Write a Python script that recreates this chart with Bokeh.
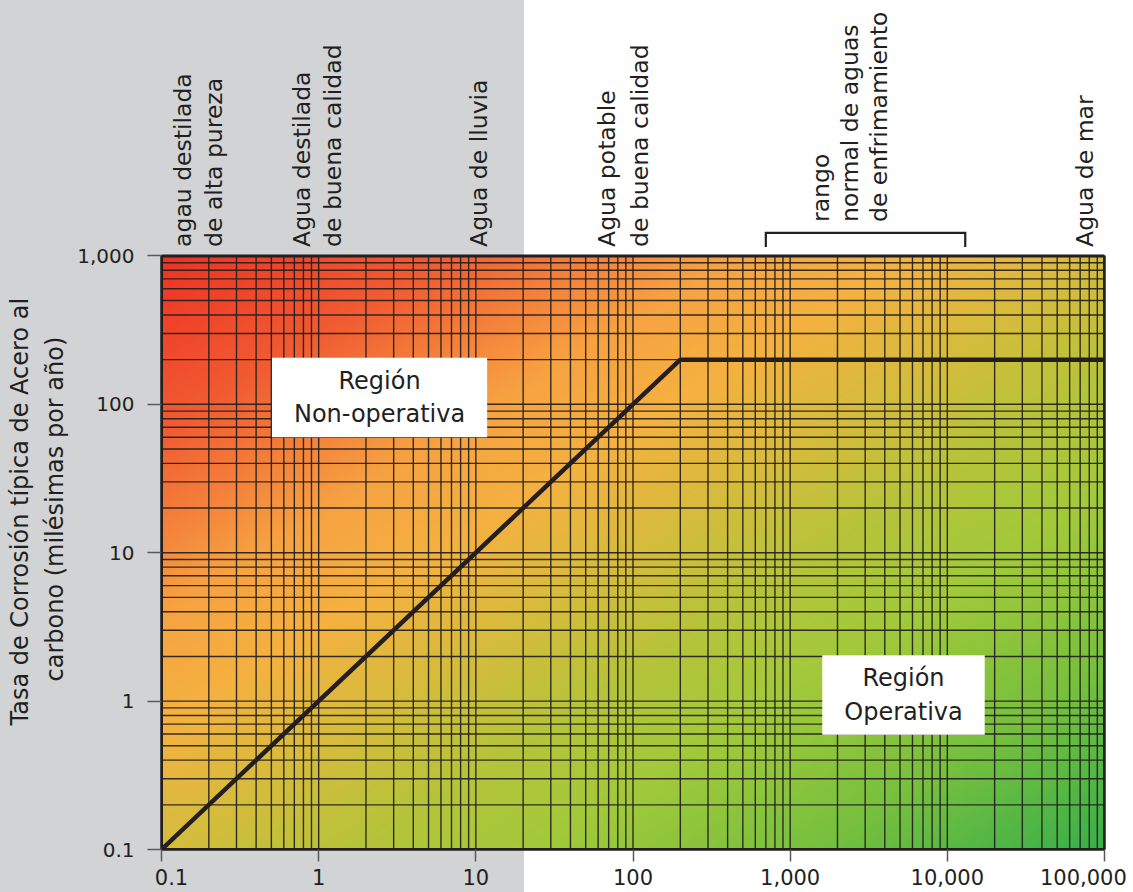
import numpy as np
from bokeh.plotting import figure
from bokeh.models import Label, Title, LogAxis, NumeralTickFormatter, FixedTicker
from bokeh.core.properties import value
from bokeh.embed import file_html
from bokeh.resources import INLINE

# ---------------- data ----------------
# boundary between operative / non-operative region
limit_x = [0.1, 200, 100000]
limit_y = [0.1, 200, 200]

x_major = [0.1, 1, 10, 100, 1000, 10000, 100000]
x_major_labels = ["0.1", "1", "10", "100", "1,000", "10,000", "100,000"]
y_major = [0.1, 1, 10, 100, 1000]

# water types written above the chart: one entry per text line, at a conductivity position
water_text = ["agau destilada", "de alta pureza",
              "Agua destilada", "de buena calidad",
              "Agua de lluvia",
              "Agua potable", "de buena calidad",
              "rango", "normal de aguas", "de enfrimamiento",
              "Agua de mar"]
water_x = [0.138, 0.217, 0.778, 1.24, 10.4, 68.8, 110, 1582, 2420, 3701, 75700]
water_lift_px = [9, 9, 9, 9, 9, 9, 9, 34, 34, 34, 9]
cooling_range = [700, 13000]

region_texts = ["Región\nNon-operativa", "Región\nOperativa"]
region_x = [2.44, 5260]
region_y = [111, 1.10]

y_title = ["Tasa de Corrosión típica de Acero al", "carbono (milésimas por año)"]

# ---------------- layout / style ----------------
INK = "#231f20"
FONT = "DejaVu Sans"
GRAY_BG = "#d1d3d4"
NBSP = "\u00a0"

W, H = 1133, 892
FRAME_L, FRAME_R, FRAME_T, FRAME_B = 161, 1104, 256, 851
X0, X1 = x_major[0], x_major[-1]
Y0, Y1 = y_major[0], y_major[-1]
PX_DEC_X = (FRAME_R - FRAME_L) / np.log10(X1 / X0)
PX_DEC_Y = (FRAME_B - FRAME_T) / np.log10(Y1 / Y0)


def y_up(y, px):
    """data value lying px screen pixels above y (log scale)"""
    return y * 10 ** (px / PX_DEC_Y)


# the plotting frame is extended up to the top of the canvas so the labels above
# the chart can be drawn as glyphs; the chart itself covers 0.1..1000
Y_TOP = y_up(Y1, FRAME_T)

p = figure(width=W, height=H, x_axis_type="log", y_axis_type="log",
           x_range=(X0, X1), y_range=(Y0, Y_TOP),
           toolbar_location=None, output_backend="svg",
           min_border_left=FRAME_L, min_border_right=W - FRAME_R,
           min_border_top=0, min_border_bottom=H - FRAME_B,
           border_fill_color=None, background_fill_color=None)
p.styles = {"background": f"linear-gradient(to right, {GRAY_BG} 0px, {GRAY_BG} 524px, #ffffff 524px, #ffffff 100%)"}
p.outline_line_color = None
p.xgrid.grid_line_color = None
p.ygrid.grid_line_color = None

# gradient background of the chart area
ny, nx = 200, 320
u = np.linspace(0, 1, nx)[None, :]
v = np.linspace(1, 0, ny)[:, None]
t = (u + v) / 2.0
stops = [0.0, 0.15, 0.3, 0.4, 0.5, 0.6, 0.7, 0.85, 1.0]
cols = np.array([
    (238, 50, 36), (241, 92, 50), (247, 162, 66), (244, 178, 64),
    (214, 188, 60), (182, 196, 58), (162, 202, 58), (118, 192, 62), (58, 176, 74)
], dtype=float)
img = np.empty((ny, nx), dtype=np.uint32)
view = img.view(dtype=np.uint8).reshape((ny, nx, 4))
for k in range(3):
    view[:, :, k] = np.interp(t, stops, cols[:, k]).astype(np.uint8)
view[:, :, 3] = 255
p.image_rgba(image=[img], x=X0, y=Y0, dw=X1 - X0, dh=Y1 - Y0, level="image")

# log grid (major + minor) limited to the chart area
x_minor = [m * 10.0 ** e for e in range(-1, 5) for m in range(2, 10)]
y_minor = [m * 10.0 ** e for e in range(-1, 3) for m in range(2, 10)]
gx = x_major + x_minor
gy = y_major + y_minor
grid_style = dict(line_color=INK, line_width=1.4, line_alpha=0.92)
p.segment(x0=gx, y0=[Y0] * len(gx), x1=gx, y1=[Y1] * len(gx), **grid_style)
p.segment(x0=[X0] * len(gy), y0=gy, x1=[X1] * len(gy), y1=gy, **grid_style)

# boundary line
p.line(limit_x, limit_y, line_width=4.5, line_color=INK)

# chart border
p.quad(left=[X0], right=[X1], bottom=[Y0], top=[Y1], fill_color=None,
       line_color=INK, line_width=3)

# axes
xt = FixedTicker(ticks=x_major, minor_ticks=[])
yt = FixedTicker(ticks=y_major, minor_ticks=[])
p.xaxis.ticker = xt
p.yaxis.ticker = yt
p.yaxis.bounds = (Y0, Y1)
for ax in (p.xaxis, p.yaxis):
    ax.axis_line_color = INK
    ax.axis_line_width = 2.5
    ax.minor_tick_line_color = None
    ax.major_tick_in = 0
    ax.major_tick_line_color = "#58595b"
    ax.major_tick_line_width = 1.5
p.xaxis.major_tick_out = 12
p.yaxis.major_tick_out = 14

x_pad_left = [3, 0, 0, 0, 0, 0, 0]
x_pad_right = [0, 0, 0, 0, 0, 0, 1]
p.xaxis.major_label_overrides = {
    xv: NBSP * a + txt + NBSP * b
    for xv, txt, a, b in zip(x_major, x_major_labels, x_pad_left, x_pad_right)
}
p.xaxis.major_label_text_font = FONT
p.xaxis.major_label_text_font_size = "21px"
p.xaxis.major_label_text_color = INK
p.xaxis.major_label_standoff = 4

p.yaxis.formatter = NumeralTickFormatter(format="0,0.[0]")
p.yaxis.major_label_text_font = FONT
p.yaxis.major_label_text_font_size = "20px"
p.yaxis.major_label_text_color = INK
p.yaxis.major_label_standoff = 13

right_axis = LogAxis(ticker=FixedTicker(ticks=[], minor_ticks=[]), bounds=(Y0, Y1))
right_axis.axis_line_color = INK
right_axis.axis_line_width = 2.5
right_axis.major_tick_line_color = None
right_axis.minor_tick_line_color = None
right_axis.major_label_text_color = None
p.add_layout(right_axis, "right")

# water-type labels above the chart
water_y = [y_up(Y1, d) for d in water_lift_px]
p.text(x=water_x, y=water_y, text=water_text, angle=np.pi / 2,
       text_align="left", text_baseline="middle",
       text_font=value(FONT), text_font_size=value("23.5px"), text_color=INK)

# bracket marking the normal range of cooling waters
br_low, br_high = y_up(Y1, 9), y_up(Y1, 23)
p.line(x=[cooling_range[0], cooling_range[0], cooling_range[1], cooling_range[1]],
       y=[br_low, br_high, br_high, br_low], line_color=INK, line_width=2.2,
       line_join="miter")

# region boxes
for txt, xv, yv in zip(region_texts, region_x, region_y):
    p.add_layout(Label(x=xv, y=yv, text=txt, text_align="center", text_baseline="middle",
                       text_font=FONT, text_font_size="24px", text_color=INK,
                       text_line_height=1.2, background_fill_color="white",
                       padding=(22, 9)))

# y-axis title (two rotated lines; the outer line is added last)
title_offsets = [124, 168]
title_standoffs = [0, 11]
for i in (1, 0):
    p.add_layout(Title(text=y_title[i], align="left", offset=title_offsets[i],
                       standoff=title_standoffs[i],
                       text_font=FONT, text_font_size="24px", text_font_style="normal",
                       text_color=INK), "left")

open("out.html", "w").write(file_html(p, INLINE))
